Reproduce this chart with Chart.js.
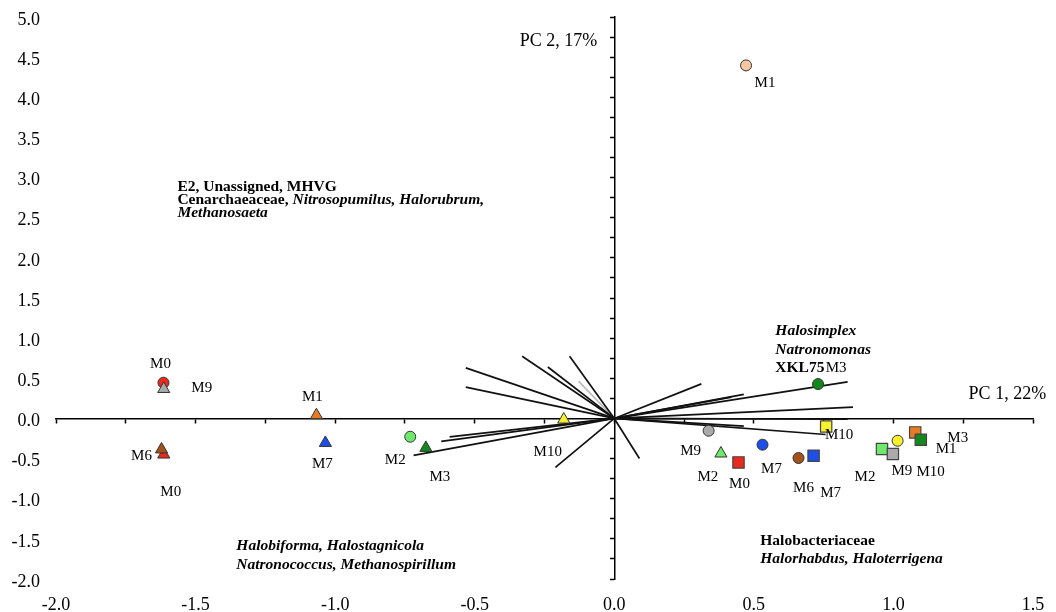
<!DOCTYPE html>
<html lang="en">
<head>
<meta charset="UTF-8">
<title>PCA biplot</title>
<script src="https://cdn.jsdelivr.net/npm/chart.js"></script>
<style>
  body { margin: 0; background: #fff; }
  canvas { display: block; }
</style>
</head>
<body>
<canvas id="pca" width="1056" height="612"></canvas>
<script>
// sample scores, one set of arrays per marker shape
const circleLabels = ['M0', 'M2', 'M9', 'M7', 'M6', 'M3', 'M10', 'M1'];
const circleX = [-1.615, -0.731, 0.338, 0.531, 0.660, 0.730, 1.015, 0.472];
const circleY = [0.445, -0.228, -0.153, -0.327, -0.493, 0.428, -0.278, 4.397];

const triangleLabels = ['M9', 'M0', 'M6', 'M1', 'M7', 'M3', 'M10', 'M2'];
const triangleX = [-1.614, -1.614, -1.622, -1.067, -1.035, -0.675, -0.181, 0.382];
const triangleY = [0.367, -0.450, -0.386, 0.040, -0.305, -0.367, -0.014, -0.437];

const squareLabels = ['M0', 'M7', 'M10', 'M2', 'M9', 'M1', 'M3'];
const squareX = [0.445, 0.714, 0.759, 0.959, 0.998, 1.078, 1.098];
const squareY = [-0.548, -0.465, -0.100, -0.381, -0.443, -0.174, -0.265];

// loading vectors, each drawn from the origin to (x, y)
const vectorX = [-0.532, -0.532, -0.330, -0.238, -0.160, -0.128, -0.590, -0.620, -0.719, -0.211, 0.090,
                 0.312, 0.464, 0.420, 0.836, 0.855, 0.836, 0.464, 0.757];
const vectorY = [0.630, 0.390, 0.775, 0.640, 0.775, 0.464, -0.230, -0.286, -0.460, -0.610, -0.500,
                 0.430, 0.300, 0.265, 0.456, 0.140, -0.010, -0.095, -0.200];

const xTickLabels = ['-2.0', '-1.5', '-1.0', '-0.5', '0.0', '0.5', '1.0', '1.5'];
const yTickLabels = ['-2.0', '-1.5', '-1.0', '-0.5', '0.0', '0.5', '1.0', '1.5', '2.0',
                     '2.5', '3.0', '3.5', '4.0', '4.5', '5.0'];

// colours
const RED = '#ea2a1f', GREEN_LT = '#6fe86c', GREEN_DK = '#12881f', GRAY = '#aaaaaa',
      BLUE = '#1c4fe9', BROWN = '#a3521c', YELLOW = '#f6f12c', ORANGE = '#e87b22', PEACH = '#f8c6a0';
const circleColors = [RED, GREEN_LT, GRAY, BLUE, BROWN, GREEN_DK, YELLOW, PEACH];
const triangleColors = [GRAY, RED, BROWN, ORANGE, BLUE, GREEN_DK, YELLOW, GREEN_LT];
const squareColors = [RED, BLUE, YELLOW, GREEN_LT, GRAY, ORANGE, GREEN_DK];
const vectorColors = vectorX.map((_, i) => i === 5 ? '#bdbdbd' : '#111');

// where each sample name sits relative to its marker (px)
const circleLabelOffsets = [[-3, -19], [-15, 23], [-18, 20], [9, 24], [5, 30], [18, -16], [33, 31], [19, 18]];
const triangleLabelOffsets = [[38, -1], [7, 38], [-20, 7], [-4, -18], [-3, 21], [14, 29], [-16, 33], [-13, 24]];
const squareLabelOffsets = [[1, 22], [17, 37], [13, 9], [-17, 28], [9, 17], [31, 17], [37, -2]];

// taxon notes, anchored in data units
const noteBlocks = [
  { x: -1.565, y: 2.886, pitch: 13, lines: [
      [['E2, Unassigned, MHVG', 'bold']],
      [['Cenarchaeaceae, ', 'bold'], ['Nitrosopumilus, Halorubrum,', 'italic bold']],
      [['Methanosaeta', 'italic bold']] ] },
  { x: -1.354, y: -1.594, pitch: 18.3, lines: [
      [['Halobiforma, Halostagnicola', 'italic bold']],
      [['Natronococcus, Methanospirillum', 'italic bold']] ] },
  { x: 0.577, y: 1.084, pitch: 18.3, lines: [
      [['Halosimplex', 'italic bold']],
      [['Natronomonas', 'italic bold']],
      [['XKL75', 'bold']] ] },
  { x: 0.523, y: -1.532, pitch: 17.6, lines: [
      [['Halobacteriaceae', 'bold']],
      [['Halorhabdus, Haloterrigena', 'italic bold']] ] }
];
const axisTitles = [
  { text: 'PC 2, 17%', x: -0.061, y: 4.696 },
  { text: 'PC 1, 22%', x: 1.547, y: 0.295 }
];

const SERIF = '"Liberation Serif", "Times New Roman", serif';
Chart.defaults.font.family = SERIF;
Chart.defaults.color = '#000';

const pts = (xs, ys) => xs.map((x, i) => ({ x, y: ys[i] }));

const datasets = [
  { data: pts(triangleX, triangleY), pointStyle: 'triangle', pointRadius: 7,
    backgroundColor: triangleColors, borderColor: '#333', borderWidth: 1, order: 1,
    names: triangleLabels, offsets: triangleLabelOffsets },
  { data: pts(squareX, squareY), pointStyle: 'rect', pointRadius: 8,
    backgroundColor: squareColors, borderColor: '#444', borderWidth: 1.2, order: 2,
    names: squareLabels, offsets: squareLabelOffsets },
  { data: pts(circleX, circleY), pointStyle: 'circle', pointRadius: 5.5,
    backgroundColor: circleColors, borderColor: '#333', borderWidth: 1, order: 3,
    names: circleLabels, offsets: circleLabelOffsets }
];
vectorX.forEach((x, i) => datasets.push({
  data: [{ x: 0, y: 0 }, { x, y: vectorY[i] }],
  showLine: true, pointRadius: 0, borderColor: vectorColors[i], borderWidth: 1.7, order: 10
}));

const pointNames = {
  id: 'pointNames',
  afterDatasetsDraw(chart) {
    const ctx = chart.ctx;
    ctx.save();
    ctx.font = '15px ' + SERIF;
    ctx.fillStyle = '#000';
    ctx.textAlign = 'center';
    ctx.textBaseline = 'middle';
    chart.data.datasets.forEach((ds, di) => {
      if (!ds.names) return;
      chart.getDatasetMeta(di).data.forEach((el, i) => {
        const [dx, dy] = ds.offsets[i];
        ctx.fillText(ds.names[i], el.x + dx, el.y + dy);
      });
    });
    ctx.restore();
  }
};

const notes = {
  id: 'notes',
  afterDraw(chart) {
    const ctx = chart.ctx;
    const sx = chart.scales.x, sy = chart.scales.y;
    ctx.save();
    ctx.fillStyle = '#000';
    ctx.textBaseline = 'middle';
    ctx.textAlign = 'left';
    noteBlocks.forEach(b => {
      const x0 = sx.getPixelForValue(b.x);
      const y0 = sy.getPixelForValue(b.y);
      b.lines.forEach((segs, li) => {
        let x = x0;
        segs.forEach(([txt, style]) => {
          ctx.font = style + ' 15.5px ' + SERIF;
          ctx.fillText(txt, x, y0 + li * b.pitch);
          x += ctx.measureText(txt).width;
        });
      });
    });
    ctx.font = '18px ' + SERIF;
    ctx.textAlign = 'right';
    axisTitles.forEach(t => {
      ctx.fillText(t.text, sx.getPixelForValue(t.x), sy.getPixelForValue(t.y));
    });
    ctx.restore();
  }
};

const crossAxis = {
  grid: { display: true, drawOnChartArea: false, drawTicks: true, tickLength: 4,
          tickColor: '#000', tickWidth: 1.5 },
  border: { display: true, color: '#000', width: 1.5 },
  ticks: { display: false, stepSize: 0.25 }
};

new Chart(document.getElementById('pca'), {
  type: 'scatter',
  data: { datasets },
  options: {
    responsive: false,
    animation: false,
    layout: { padding: { top: 17, right: 23, bottom: 0, left: 0 } },
    plugins: { legend: { display: false }, tooltip: { enabled: false } },
    scales: {
      x: {
        type: 'linear', position: 'bottom', min: -2, max: 1.5,
        grid: { display: false, drawTicks: false }, border: { display: false },
        afterBuildTicks: s => { s.ticks = xTickLabels.map(t => ({ value: parseFloat(t) })); },
        ticks: { autoSkip: false, maxRotation: 0, padding: 15, font: { size: 18 },
                 callback: (v, i) => xTickLabels[i] },
        afterFit: s => { s.height = 33; s.paddingLeft = 0; s.paddingRight = 0; }
      },
      y: {
        type: 'linear', position: 'left', min: -2, max: 5,
        grid: { display: false, drawTicks: false }, border: { display: false },
        afterBuildTicks: s => { s.ticks = yTickLabels.map(t => ({ value: parseFloat(t) })); },
        ticks: { autoSkip: false, padding: 16, labelOffset: 3, font: { size: 18 },
                 callback: (v, i) => yTickLabels[i] },
        afterFit: s => { s.width = 56; s.paddingTop = 0; s.paddingBottom = 0; }
      },
      x2: Object.assign({ type: 'linear', axis: 'x', position: { y: 0 }, min: -2, max: 1.5 }, crossAxis),
      y2: Object.assign({ type: 'linear', axis: 'y', position: { x: 0 }, min: -2, max: 5 }, crossAxis)
    }
  },
  plugins: [pointNames, notes]
});
</script>
</body>
</html>
